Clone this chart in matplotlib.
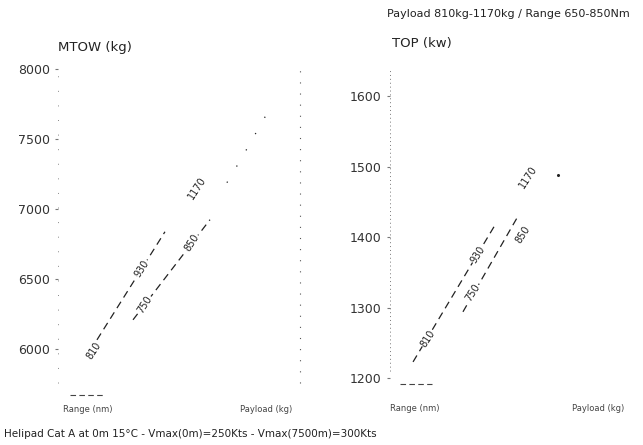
import matplotlib
matplotlib.use("Agg")
import matplotlib.pyplot as plt

# ---------------- data (carpet abscissa is arbitrary units 0..100) ----------------
# Left panel: MTOW (kg)
mtow_ticks = [6000, 6500, 7000, 7500, 8000]
mtow_lineA_x = [16.1, 44.2]
mtow_lineA_y = [6068, 6839]
mtow_lineB_x = [31.0, 62.8]
mtow_lineB_y = [6211, 6925]
mtow_ext_x = [69.8, 76.0, 86.8]
mtow_ext_y = [7189, 7368, 7696]
mtow_labels = ["810", "930", "750", "850", "1170"]
mtow_label_x = [14.8, 34.7, 36.0, 55.4, 57.4]
mtow_label_y = [5990, 6578, 6322, 6759, 7154]

# Right panel: TOP (kW)
top_ticks = [1200, 1300, 1400, 1500, 1600]
top_lineA_x = [9.6, 43.75]
top_lineA_y = [1223, 1417]
top_lineB_x = [30.4, 52.9]
top_lineB_y = [1294, 1427]
top_ext_x = [70.0]
top_ext_y = [1488]
top_labels = ["810", "930", "750", "850", "1170"]
top_label_x = [15.8, 36.7, 34.6, 55.4, 57.5]
top_label_y = [1256, 1375, 1321, 1404, 1485]

W, H = 643, 445
fig = plt.figure(figsize=(W / 100, H / 100), dpi=100)
fig.patch.set_facecolor("white")

ink = "#222222"
dash = (0, (6, 4))
lbl_box = dict(facecolor="white", edgecolor="none", pad=0.3)


def make_axes(px_left, px_width, ylim, ticks):
    ax = fig.add_axes([px_left / W, 1 - 400 / H, px_width / W, 340 / H])
    ax.set_xlim(0, 100)
    ax.set_ylim(*ylim)
    for s in ax.spines.values():
        s.set_visible(False)
    ax.set_xticks([])
    ax.set_yticks(ticks)
    ax.set_yticklabels([str(t) for t in ticks], fontsize=9, color="#333333")
    ax.tick_params(axis="y", length=2, width=0.8, color="#777777", pad=4)
    ax.patch.set_alpha(0)
    return ax


# ---------- left panel ----------
axL = make_axes(58, 242, (5639, 8064), mtow_ticks)
axL.plot([0, 0], [5760, 8040], color="#888888", lw=0.7, ls=(0, (1, 14)), clip_on=False)
axL.plot([100, 100], [5760, 8050], color="#555555", lw=0.8, ls=(0, (1, 9)), clip_on=False)
axL.plot(mtow_lineA_x, mtow_lineA_y, color=ink, lw=0.9, ls=dash)
axL.plot(mtow_lineB_x, mtow_lineB_y, color=ink, lw=0.9, ls=dash)
axL.plot(mtow_ext_x, mtow_ext_y, color=ink, lw=0.9, ls=(0, (1, 14)))
for t, x, y in zip(mtow_labels, mtow_label_x, mtow_label_y):
    axL.text(x, y, t, fontsize=7, rotation=57, ha="center", va="center",
             color=ink, bbox=lbl_box)
axL.plot([5, 19.4], [5675, 5675], color="#444444", lw=0.8, ls=(0, (5, 3)), clip_on=False)
axL.text(0, 8154, "MTOW (kg)", fontsize=9.5, color="#222222", ha="left", va="center")
axL.text(2, 5568, "Range (nm)", fontsize=6, color="#444444", ha="left", va="center")
axL.text(75, 5568, "Payload (kg)", fontsize=6, color="#444444", ha="left", va="center")

# ---------- right panel ----------
axR = make_axes(390, 240, (1169, 1651), top_ticks)
axR.plot([0, 0], [1210, 1640], color="#777777", lw=0.7, ls=(0, (1, 3)), clip_on=False)
axR.plot(top_lineA_x, top_lineA_y, color=ink, lw=0.9, ls=dash)
axR.plot(top_lineB_x, top_lineB_y, color=ink, lw=0.9, ls=dash)
axR.plot(top_ext_x, top_ext_y, color=ink, marker="o", ms=1.2, ls="none")
for t, x, y in zip(top_labels, top_label_x, top_label_y):
    axR.text(x, y, t, fontsize=7, rotation=57, ha="center", va="center",
             color=ink, bbox=lbl_box)
axR.plot([4.2, 17.5], [1191, 1191], color="#444444", lw=0.8, ls=(0, (5, 3)), clip_on=False)
axR.text(1, 1674, "TOP (kw)", fontsize=9.5, color="#222222", ha="left", va="center")
axR.text(0, 1157, "Range (nm)", fontsize=6, color="#444444", ha="left", va="center")
axR.text(76, 1157, "Payload (kg)", fontsize=6, color="#444444", ha="left", va="center")

# ---------- titles ----------
fig.text(387 / W, 1 - 14 / H, "Payload 810kg-1170kg / Range 650-850Nm",
         fontsize=8, color="#222222", ha="left", va="center")
fig.text(4 / W, 1 - 434 / H,
         "Helipad Cat A at 0m 15°C - Vmax(0m)=250Kts - Vmax(7500m)=300Kts",
         fontsize=7.5, color="#222222", ha="left", va="center")

fig.savefig("out.png", dpi=100)
